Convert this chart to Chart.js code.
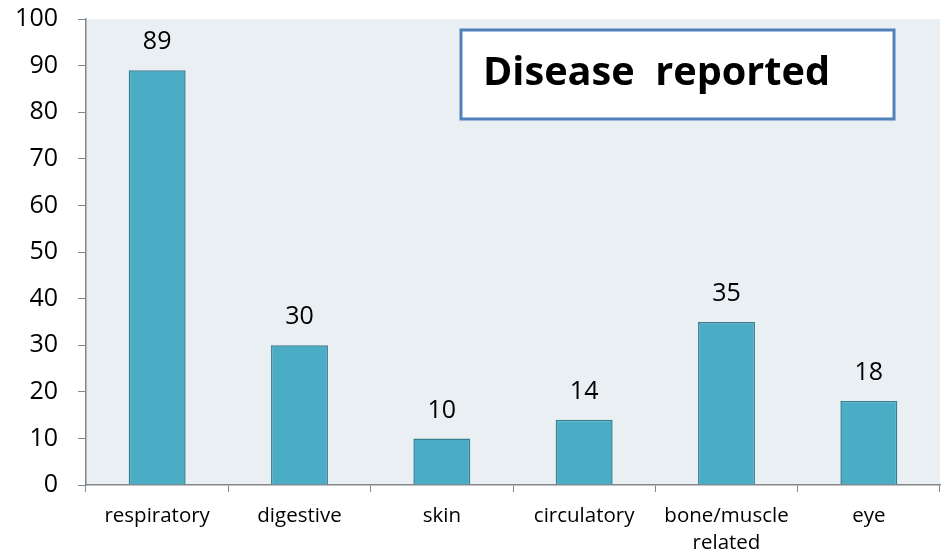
<!DOCTYPE html>
<html>
<head>
<meta charset="utf-8">
<script src="https://cdn.jsdelivr.net/npm/chart.js@4"></script>
<style>
  html, body { margin: 0; padding: 0; background: #fff; }
  #wrap { width: 942px; height: 556px; }
</style>
</head>
<body>
<div id="wrap"><canvas id="chart" width="942" height="556"></canvas></div>
<script>
const categories = ['respiratory', 'digestive', 'skin', 'circulatory', ['bone/muscle', 'related'], 'eye'];
const cases = [89, 30, 10, 14, 35, 18];
const yTicks = [0, 10, 20, 30, 40, 50, 60, 70, 80, 90, 100];
const title = 'Disease  reported';

const FONT = '"Open Sans", "Noto Sans", sans-serif';

// light plot background
const plotBg = {
  id: 'plotBg',
  beforeDraw(chart) {
    const { ctx, chartArea: a } = chart;
    ctx.save();
    ctx.fillStyle = '#E9EFF3';
    ctx.fillRect(a.left, a.top, a.right - a.left, a.bottom - a.top);
    ctx.restore();
  }
};

// value labels above bars + boxed title
const labels = {
  id: 'labels',
  afterDatasetsDraw(chart) {
    const ctx = chart.ctx;
    const meta = chart.getDatasetMeta(0);
    ctx.save();
    ctx.font = '25px ' + FONT;
    ctx.fillStyle = '#000';
    ctx.textAlign = 'center';
    ctx.textBaseline = 'middle';
    meta.data.forEach((bar, i) => {
      ctx.fillText(String(cases[i]), bar.x, bar.y - 28);
    });

    // title box
    ctx.fillStyle = '#fff';
    ctx.fillRect(461, 30, 433, 89);
    ctx.strokeStyle = '#4F81BD';
    ctx.lineWidth = 3;
    ctx.strokeRect(461, 30, 433, 89);
    ctx.fillStyle = '#000';
    ctx.textAlign = 'left';
    ctx.textBaseline = 'alphabetic';
    ctx.font = 'bold 40px ' + FONT;
    ctx.fillText(title, 483, 85, 347);
    ctx.restore();
  }
};

new Chart(document.getElementById('chart').getContext('2d'), {
  type: 'bar',
  data: {
    labels: categories,
    datasets: [{
      data: cases,
      backgroundColor: '#4BACC6',
      borderColor: '#357F92',
      borderWidth: 1.5,
      borderSkipped: 'bottom',
      barPercentage: 0.4,
      categoryPercentage: 1.0
    }]
  },
  options: {
    responsive: false,
    animation: false,
    layout: { padding: { top: 19, right: 2, left: 0, bottom: 0 } },
    plugins: {
      legend: { display: false },
      tooltip: { enabled: false }
    },
    scales: {
      x: {
        grid: { display: true, drawOnChartArea: false, offset: true, color: '#868686', tickLength: 7 },
        border: { color: '#868686', width: 1.5 },
        ticks: { color: '#000', font: { size: 20.5, family: FONT, lineHeight: 1.3 }, padding: 11, maxRotation: 0 },
        afterFit(scale) { scale.height = 71; scale.paddingLeft = 0; scale.paddingRight = 0; }
      },
      y: {
        min: 0,
        max: 100,
        afterBuildTicks(scale) { scale.ticks = yTicks.map(v => ({ value: v })); },
        grid: { display: true, drawOnChartArea: false, color: '#868686', tickLength: 8 },
        border: { color: '#868686', width: 1.5 },
        ticks: { color: '#000', font: { size: 25, family: FONT }, padding: 20 },
        afterFit(scale) { scale.width = 86; scale.paddingTop = 0; scale.paddingBottom = 0; }
      }
    }
  },
  plugins: [plotBg, labels]
});
</script>
</body>
</html>
